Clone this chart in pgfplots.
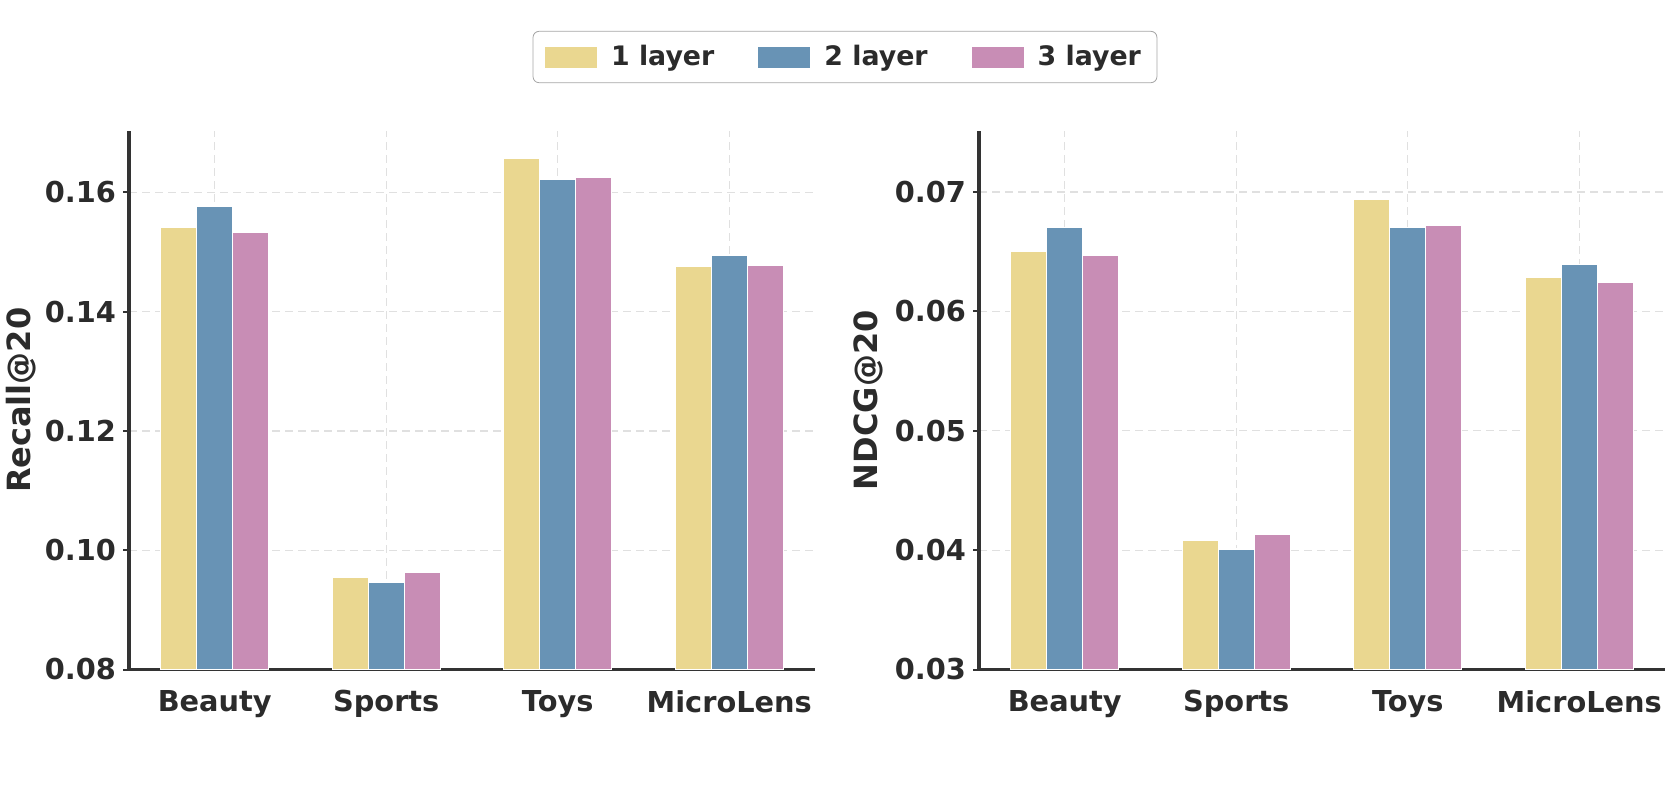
\documentclass[border=0pt]{standalone}
\usepackage{pgfplots}
\pgfplotsset{compat=1.18}
\usepackage{pgfplotstable}
\usepackage{fontspec}
\setmainfont{DejaVu Sans}
\definecolor{c1}{HTML}{EAD790}
\definecolor{c2}{HTML}{6893B5}
\definecolor{c3}{HTML}{C88DB5}
\definecolor{axcol}{HTML}{333333}
\definecolor{txt}{HTML}{2B2B2B}

\pgfplotstableread{
x a b c
0 0.1542 0.1576 0.1533
1 0.0954 0.0946 0.0963
2 0.1657 0.1622 0.1626
3 0.1476 0.1495 0.1478
}\recall

\pgfplotstableread{
x a b c
0 0.0650 0.0670 0.0647
1 0.0408 0.0401 0.0413
2 0.0694 0.0670 0.0672
3 0.0628 0.0639 0.0624
}\ndcg

\pgfplotsset{
  mybar/.style={
    scale only axis, width=343pt, height=269.25pt,
    xmin=-0.5, xmax=3.5,
    xtick={0,1,2,3}, xticklabels={Beauty,Sports,Toys,MicroLens},
    axis x line*=bottom, axis y line*=left,
    axis line style={-, line width=1.7pt, draw=axcol},
    grid=major,
    major grid style={dash pattern=on 4pt off 2.5pt, draw=black!12, line width=0.6pt},
    tick label style={font=\fontsize{14.4}{17}\selectfont\bfseries, text=txt},
    label style={font=\fontsize{16}{19}\selectfont\bfseries, text=txt},
    xtick style={draw=none},
    ytick style={draw=axcol, line width=1pt},
    tick align=outside, major tick length=3pt,
    xticklabel style={yshift=-4pt},
    scaled y ticks=false,
    clip=true,
  },
  b1/.style={ybar, bar width=0.21, bar shift=-0.21, fill=c1, draw=white, line width=0.6pt},
  b2/.style={ybar, bar width=0.21, bar shift=0, fill=c2, draw=white, line width=0.6pt},
  b3/.style={ybar, bar width=0.21, bar shift=0.21, fill=c3, draw=white, line width=0.6pt},
}

\begin{document}
\begin{tikzpicture}
\useasboundingbox (0pt,0pt) rectangle (840pt,392pt);
\begin{axis}[mybar,
  at={(64.5pt,57.25pt)}, anchor=south west,
  ymin=0.08, ymax=0.1703,
  ytick={0.08,0.10,0.12,0.14,0.16},
  yticklabels={0.08,0.10,0.12,0.14,0.16},
  ylabel={Recall@20},
  ylabel style={at={(axis description cs:-0.157,0.5)}, anchor=center, rotate=0},
  legend columns=3,
  legend style={at={(1.0437,1.1374)}, anchor=center, draw=black!35, rounded corners=3pt,
    font=\fontsize{13.4}{15.5}\selectfont\bfseries, text=txt, inner xsep=6pt, inner ysep=5pt,
    /tikz/every odd column/.append style={column sep=5pt},
    /tikz/every even column/.append style={column sep=20pt}},
  legend image code/.code={\draw[#1, draw=none, sharp corners] (0pt,-5.25pt) rectangle (26pt,5.25pt);},
]
\addplot[b1] table[x=x,y=a]{\recall}; \addlegendentry{1 layer}
\addplot[b2] table[x=x,y=b]{\recall}; \addlegendentry{2 layer}
\addplot[b3] table[x=x,y=c]{\recall}; \addlegendentry{3 layer}
\end{axis}
\begin{axis}[mybar,
  at={(489.5pt,57.25pt)}, anchor=south west,
  ymin=0.03, ymax=0.0751,
  ytick={0.03,0.04,0.05,0.06,0.07},
  yticklabels={0.03,0.04,0.05,0.06,0.07},
  ylabel={NDCG@20},
  ylabel style={at={(axis description cs:-0.161,0.5)}, anchor=center, rotate=0},
]
\addplot[b1] table[x=x,y=a]{\ndcg};
\addplot[b2] table[x=x,y=b]{\ndcg};
\addplot[b3] table[x=x,y=c]{\ndcg};
\end{axis}
\end{tikzpicture}
\end{document}
